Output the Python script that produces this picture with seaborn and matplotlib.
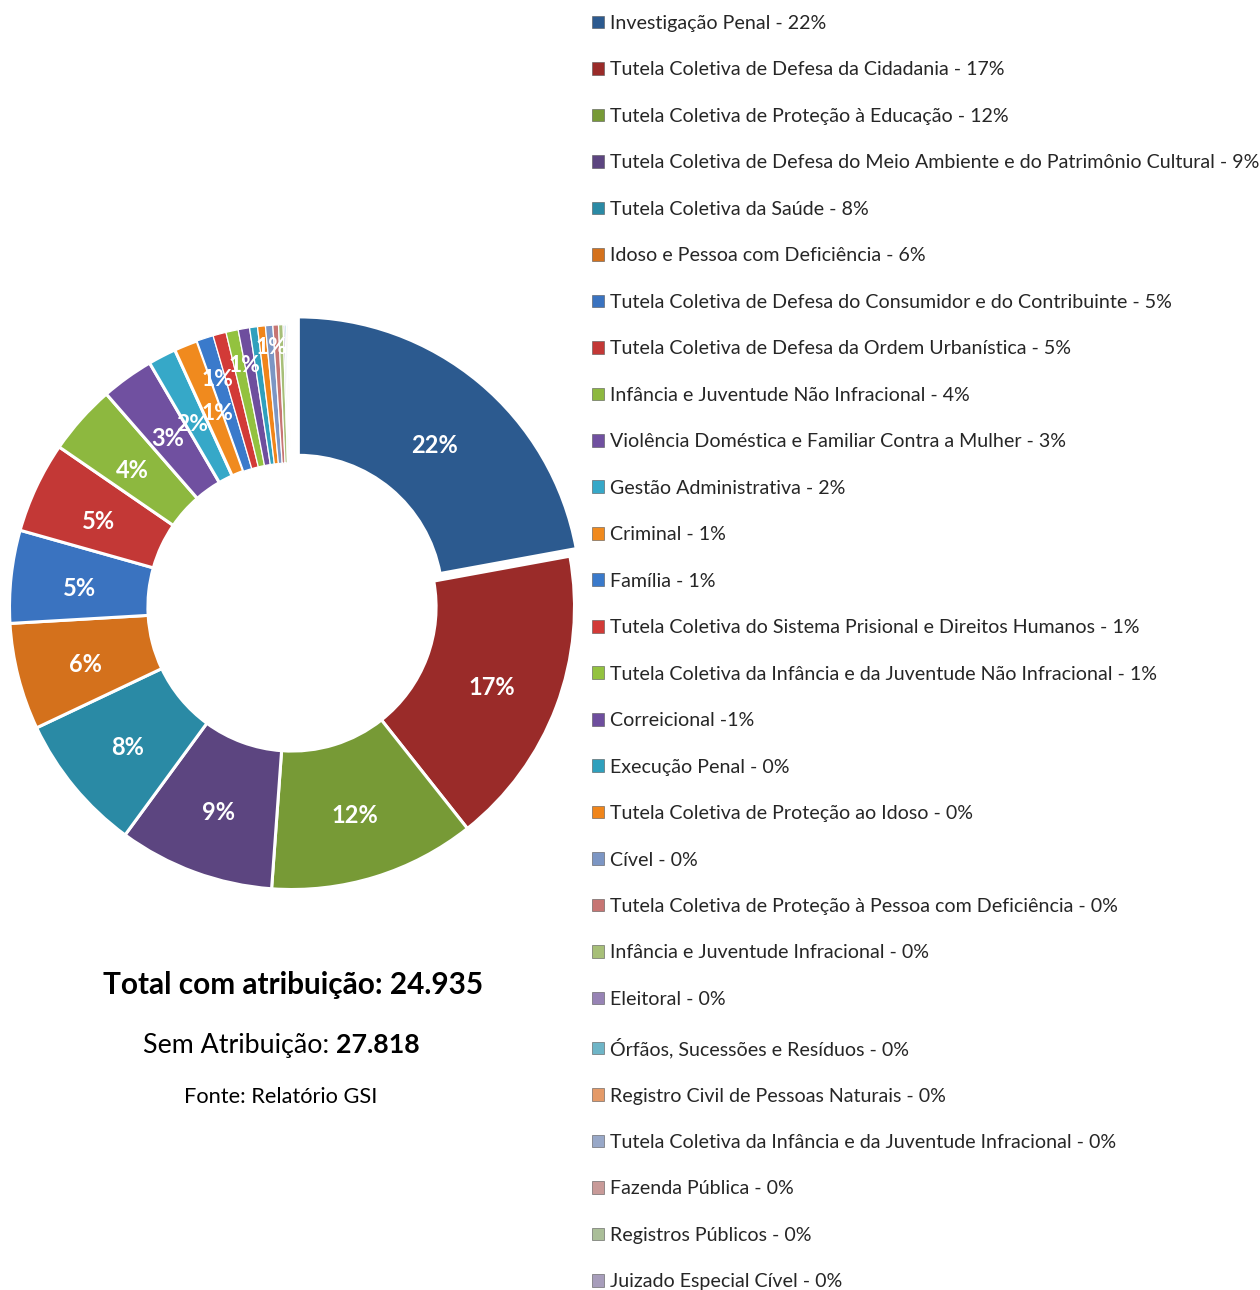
import matplotlib
matplotlib.use('Agg')
import matplotlib.pyplot as plt
import matplotlib.patches as mpatches
import numpy as np
import seaborn as sns

# ── Data ────────────────────────────────────────────────────
categories = [
    'Investigação Penal - 22%',
    'Tutela Coletiva de Defesa da Cidadania - 17%',
    'Tutela Coletiva de Proteção à Educação - 12%',
    'Tutela Coletiva de Defesa do Meio Ambiente e do Patrimônio Cultural - 9%',
    'Tutela Coletiva da Saúde - 8%',
    'Idoso e Pessoa com Deficiência - 6%',
    'Tutela Coletiva de Defesa do Consumidor e do Contribuinte - 5%',
    'Tutela Coletiva de Defesa da Ordem Urbanística - 5%',
    'Infância e Juventude Não Infracional - 4%',
    'Violência Doméstica e Familiar Contra a Mulher - 3%',
    'Gestão Administrativa - 2%',
    'Criminal - 1%',
    'Família - 1%',
    'Tutela Coletiva do Sistema Prisional e Direitos Humanos - 1%',
    'Tutela Coletiva da Infância e da Juventude Não Infracional - 1%',
    'Correicional -1%',
    'Execução Penal - 0%',
    'Tutela Coletiva de Proteção ao Idoso - 0%',
    'Cível - 0%',
    'Tutela Coletiva de Proteção à Pessoa com Deficiência - 0%',
    'Infância e Juventude Infracional - 0%',
    'Eleitoral - 0%',
    'Órfãos, Sucessões e Resíduos - 0%',
    'Registro Civil de Pessoas Naturais - 0%',
    'Tutela Coletiva da Infância e da Juventude Infracional - 0%',
    'Fazenda Pública - 0%',
    'Registros Públicos - 0%',
    'Juizado Especial Cível - 0%',
]
shares = [22.1, 17.2, 11.8, 8.9, 7.9, 6.1, 5.3, 5.2, 4.0, 3.0,
          1.6, 1.35, 0.95, 0.75, 0.7, 0.65, 0.45, 0.45, 0.42, 0.32,
          0.26, 0.1, 0.09, 0.08, 0.07, 0.06, 0.05, 0.05]
slice_labels = ['22%', '17%', '12%', '9%', '8%', '6%', '5%', '5%', '4%', '3%',
                '2%', '1%', '1%', '1%', '', '1%'] + [''] * 12
total_text = 'Total com atribuição: 24.935'
sem_label = 'Sem Atribuição:'
sem_value = '27.818'
source_text = 'Fonte: Relatório GSI'

colors = ['#2C5A8F', '#9A2B29', '#779A36', '#5C4580', '#2A8AA5', '#D4711C',
          '#3A73C0', '#C33836', '#8DB83F', '#7050A0', '#36A8C8', '#F08A1E',
          '#3A7ACB', '#D23A37', '#93C23F', '#6E4E9E', '#2FA0BD', '#F0851A',
          '#7C96C4', '#C77573', '#A7BF78', '#9783B5', '#6EB5C7', '#E49A68',
          '#98A8C8', '#C89A98', '#AABE98', '#A79DBB']

# ── Style ───────────────────────────────────────────────────
sns.set_theme(style='white')
plt.rcParams['font.family'] = ['Lato', 'DejaVu Sans']
palette = sns.color_palette(colors)

W, H = 1260, 1290
fig = plt.figure(figsize=(W / 100, H / 100), dpi=100)

# donut centre / radius in pixels
cx, cy, R = 292, 607, 282.5
half = 300
ax = fig.add_axes([(cx - half) / W, (H - cy - half) / H, 2 * half / W, 2 * half / H])

explode = [0.035] + [0] * (len(shares) - 1)
wedges, _ = ax.pie(shares, colors=palette, startangle=90, counterclock=False,
                   explode=explode, radius=1,
                   wedgeprops=dict(width=0.49, edgecolor='white', linewidth=2.2))
for w, s in zip(wedges, shares):
    if s < 1.0:
        w.set_linewidth(0.9)
lim = half / R
ax.set_xlim(-lim, lim)
ax.set_ylim(-lim, lim)
ax.set_aspect('equal')
ax.axis('off')

# label nudges for crowded small slices (radius, angle shift in deg)
nudge = {0: (0.74, -0.8), 10: (0.75, 0.6), 11: (0.75, -1.6), 12: (0.865, -0.2),
         13: (0.89, -4.0), 15: (0.94, -5.5)}
dy_txt = -0.018
for i, (w, lab) in enumerate(zip(wedges, slice_labels)):
    if not lab:
        continue
    mid = np.deg2rad((w.theta1 + w.theta2) / 2)
    r, shift = nudge.get(i, (0.755, 0))
    ang = mid + np.deg2rad(shift)
    ox, oy = w.center if i == 0 else (0, 0)
    ax.text(ox + r * np.cos(ang), oy + r * np.sin(ang) + dy_txt, lab,
            ha='center', va='center', color='white',
            fontsize=16.5 if i >= 10 else 17, fontweight='bold')

# ── Legend ──────────────────────────────────────────────────
handles = [mpatches.Patch(facecolor=c, edgecolor='#555555', linewidth=0.4)
           for c in colors]
fig.legend(handles, categories, loc='upper left',
           bbox_to_anchor=(592 / W, 1 - 15 / H), frameon=False,
           fontsize=14.1, handlelength=0.62, handleheight=0.62,
           handletextpad=0.3, labelspacing=1.505, borderpad=0, borderaxespad=0)

# ── Footer texts ────────────────────────────────────────────
fig.text(293 / W, 1 - 985 / H, total_text, ha='center', va='center',
         fontsize=21.4, fontweight='bold', color='black')

renderer = fig.canvas.get_renderer()
t1 = fig.text(0, 1 - 1045 / H, sem_label, ha='left', va='center',
              fontsize=19.3, color='black')
t2 = fig.text(0, 1 - 1045 / H, sem_value, ha='left', va='center',
              fontsize=19.3, fontweight='bold', color='black')
w1 = t1.get_window_extent(renderer).width
w2 = t2.get_window_extent(renderer).width
gap = 7
x0 = 281.5 - (w1 + gap + w2) / 2
t1.set_x(x0 / W)
t2.set_x((x0 + w1 + gap) / W)

fig.text(281 / W, 1 - 1097 / H, source_text, ha='center', va='center',
         fontsize=15.7, color='black')

fig.savefig('out.png', dpi=100, facecolor='white')
